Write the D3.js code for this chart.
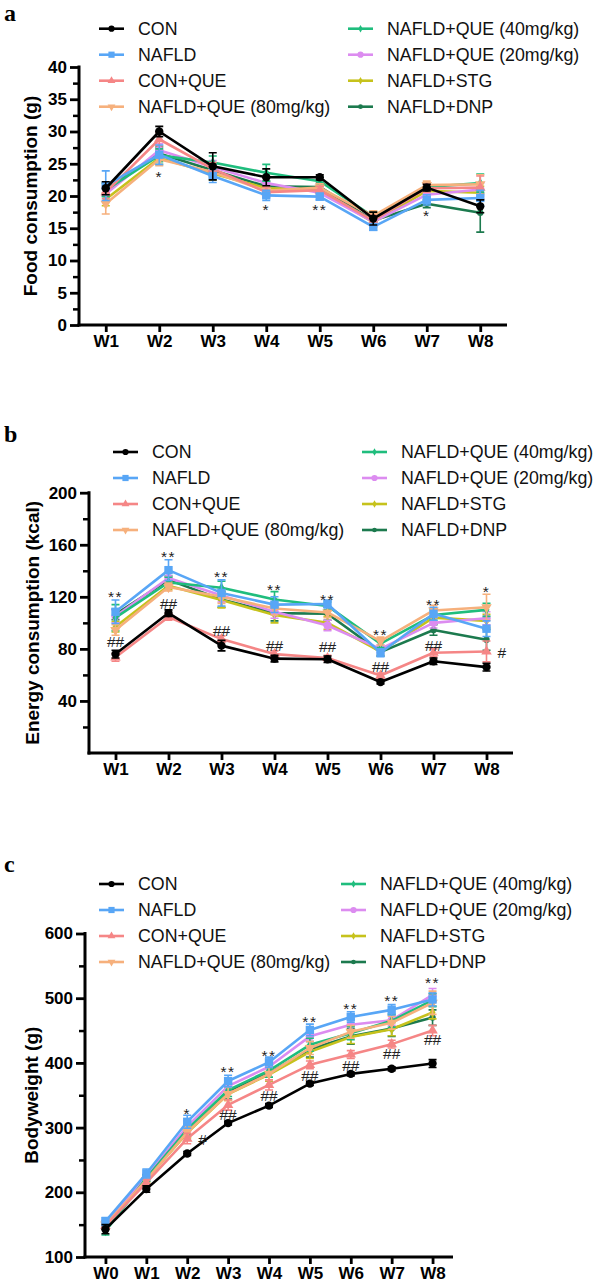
<!DOCTYPE html>
<html><head><meta charset="utf-8">
<script src="https://cdn.jsdelivr.net/npm/d3@7"></script>
<style>body{margin:0;background:#fff}svg{display:block}</style>
</head><body>
<svg id="chart" width="596" height="1285"></svg>
<script>
// ---------- data ----------
const groups = ["CON","NAFLD","CON+QUE","NAFLD+QUE (80mg/kg)","NAFLD+QUE (40mg/kg)","NAFLD+QUE (20mg/kg)","NAFLD+STG","NAFLD+DNP"];
const groupColors = ["#000000","#58a6f6","#f58686","#f6b07c","#1fbd7d","#dc8cf0","#c6c21c","#1c7a4e"];
const groupMarkers = ["circle","square","triangle","triangleDown","diamond","circle","diamond","circleSmall"];

const weeksAB = ["W1","W2","W3","W4","W5","W6","W7","W8"];
const weeksC = ["W0","W1","W2","W3","W4","W5","W6","W7","W8"];

// Food consumption (g), rows follow `groups`
const foodMean = [
  [21.2, 30.0, 24.6, 22.9, 22.9, 16.5, 21.3, 18.4],
  [21.6, 26.4, 23.1, 20.1, 19.9, 15.2, 19.4, 19.7],
  [20.6, 28.8, 24.2, 20.6, 20.9, 16.2, 21.2, 21.3],
  [18.8, 25.7, 23.7, 20.8, 21.3, 16.9, 21.7, 21.8],
  [20.9, 26.3, 25.2, 23.6, 22.3, 16.8, 21.4, 22.0],
  [20.3, 27.1, 24.5, 22.0, 20.5, 16.0, 20.2, 21.0],
  [19.5, 25.9, 23.5, 21.2, 21.0, 15.9, 20.8, 20.5],
  [21.0, 26.6, 24.0, 21.5, 21.4, 16.2, 18.8, 17.4]
];
const foodErr = [
  [1.0, 0.8, 2.1, 1.3, 0.4, 1.0, 0.5, 1.0],
  [2.3, 1.5, 1.0, 0.8, 0.5, 0.5, 0.8, 1.2],
  [1.0, 1.0, 1.0, 0.8, 0.6, 0.8, 0.6, 1.8],
  [1.6, 1.0, 1.0, 0.8, 0.6, 0.8, 0.6, 1.5],
  [1.0, 1.0, 1.0, 1.3, 0.6, 0.8, 0.6, 1.4],
  [1.0, 1.0, 1.0, 0.8, 0.6, 0.8, 0.6, 1.0],
  [1.0, 1.0, 1.0, 0.8, 0.6, 0.8, 0.6, 1.0],
  [1.0, 1.0, 1.0, 0.8, 0.6, 0.8, 0.6, 3.0]
];
const foodTicks = [0, 5, 10, 15, 20, 25, 30, 35, 40];
const foodNotes = [
  {week:"W2", value:23.5, text:"*"},
  {week:"W4", value:18.4, text:"*"},
  {week:"W5", value:18.3, text:"**"},
  {week:"W7", value:17.5, text:"*"}
];

// Energy consumption (kcal)
const energyMean = [
  [76, 107.5, 82.5, 72.5, 72, 54.5, 70.5, 66],
  [108.5, 140.5, 123, 114, 114.5, 77, 107, 95.5],
  [73.5, 104.5, 87.5, 76, 73, 59.5, 77, 78],
  [94.5, 127.5, 120, 111, 108, 86, 109.5, 112],
  [104, 131, 127, 118, 113, 84, 106, 110],
  [105, 134.5, 121, 108.5, 98, 80, 100, 103.5],
  [97, 128.5, 117.5, 106, 100, 78, 104, 101.5],
  [106.5, 133, 118, 107.5, 107, 77.5, 94.5, 87]
];
const energyErr = [
  [3, 2.5, 4, 2.5, 2.5, 1.5, 2.5, 3],
  [9, 8, 10, 6, 3, 3, 5, 6],
  [3, 2.5, 2.5, 2.5, 2, 2, 3, 8],
  [4, 3, 5, 5, 4, 3, 4, 10],
  [10, 4, 5, 6, 3, 3, 4, 5],
  [5, 4, 5, 5, 4, 3, 4, 5],
  [4, 3, 6, 6, 5, 3, 4, 5],
  [4, 3, 6, 6, 5, 3, 4, 8]
];
const energyTicks = [40, 80, 120, 160, 200];
const energyNotes = [
  {week:"W1", value:122.6, text:"**"}, {week:"W1", value:85.6, text:"##"},
  {week:"W2", value:153.4, text:"**"}, {week:"W2", value:115.2, text:"##"},
  {week:"W3", value:138, text:"**"},   {week:"W3", value:94.5, text:"##"},
  {week:"W4", value:127.6, text:"**"}, {week:"W4", value:82.3, text:"##"},
  {week:"W5", value:120.5, text:"**"}, {week:"W5", value:81.8, text:"##"},
  {week:"W6", value:93.2, text:"**"},  {week:"W6", value:66.5, text:"##"},
  {week:"W7", value:116.2, text:"**"}, {week:"W7", value:83, text:"##"},
  {week:"W8", value:126.4, text:"*"},  {week:"W8", value:77, text:"#", side:true}
];

// Bodyweight (g)
const weightMean = [
  [143, 205, 260, 307, 334, 368, 383, 391, 399],
  [155, 229, 309, 372, 401, 451, 471, 482, 498],
  [148, 215, 283, 335, 366, 397, 413, 429, 450],
  [150, 219, 293, 352, 383, 423, 448, 462, 493],
  [140, 222, 297, 358, 388, 428, 446, 465, 497],
  [152, 224, 302, 364, 394, 441, 459, 466, 505],
  [148, 220, 292, 352, 382, 417, 440, 452, 478],
  [151, 222, 296, 356, 384, 421, 441, 453, 470]
];
const weightErr = [
  [7, 5, 3, 3, 3, 3, 3, 3, 6],
  [6, 7, 10, 9, 8, 9, 8, 8, 10],
  [5, 5, 8, 8, 8, 6, 6, 6, 8],
  [5, 5, 8, 10, 10, 10, 10, 10, 18],
  [6, 5, 8, 10, 10, 10, 10, 10, 10],
  [5, 5, 8, 8, 8, 8, 8, 8, 10],
  [5, 5, 8, 10, 10, 10, 10, 10, 10],
  [5, 5, 8, 12, 12, 12, 12, 12, 12]
];
const weightTicks = [100, 200, 300, 400, 500, 600];
const weightNotes = [
  {week:"W2", value:327, text:"*"},   {week:"W2", value:281, text:"#", side:true},
  {week:"W3", value:392, text:"**"},  {week:"W3", value:320.6, text:"##"},
  {week:"W4", value:415.8, text:"**"},{week:"W4", value:350.4, text:"##"},
  {week:"W5", value:467.9, text:"**"},{week:"W5", value:381.3, text:"##"},
  {week:"W6", value:488.4, text:"**"},{week:"W6", value:396.8, text:"##"},
  {week:"W7", value:501.4, text:"**"},{week:"W7", value:414.8, text:"##"},
  {week:"W8", value:529.2, text:"**"},{week:"W8", value:436.9, text:"##"}
];

// ---------- drawing ----------
const svg = d3.select("#chart");
const SANS = "'Liberation Sans', Arial, sans-serif";

function markerPath(kind, scale) {
  const s = scale || 1;
  const map = {
    circle: [d3.symbolCircle, 55],
    circleSmall: [d3.symbolCircle, 32],
    square: [d3.symbolSquare, 70],
    triangle: [d3.symbolTriangle, 48],
    triangleDown: [d3.symbolTriangle, 48],
    diamond: [d3.symbolDiamond, 30]
  };
  const m = map[kind];
  return d3.symbol().type(m[0]).size(m[1] * s)();
}

function drawPanel(cfg) {
  const g = svg.append("g");
  const x = d3.scalePoint().domain(cfg.weeks).range([cfg.left, cfg.right]).padding(0.5);
  const y = d3.scaleLinear().domain(cfg.domain).range([cfg.bottom, cfg.top]);

  // panel letter
  g.append("text").attr("x", 4).attr("y", cfg.letterY)
    .attr("font-family", "'Liberation Serif', 'Times New Roman', serif")
    .attr("font-weight", "bold").attr("font-size", 24).text(cfg.letter);

  // legend
  groups.forEach((name, i) => {
    const col = i < 4 ? 0 : 1;
    const row = i % 4;
    const lx = cfg.legendX[col];
    const ly = cfg.legendY + row * 26;
    const lg = g.append("g");
    lg.append("line").attr("x1", lx).attr("x2", lx + 25).attr("y1", ly).attr("y2", ly)
      .attr("stroke", groupColors[i]).attr("stroke-width", 2.6);
    lg.append("path").attr("d", markerPath(groupMarkers[i], 0.55))
      .attr("transform", `translate(${lx + 12.5},${ly})` + (groupMarkers[i] === "triangleDown" ? " rotate(180)" : ""))
      .attr("fill", groupColors[i]);
    lg.append("text").attr("x", lx + 39).attr("y", ly + 6.3)
      .attr("font-family", SANS).attr("font-size", 17.8).attr("fill", "#111").text(name);
  });

  // y-axis
  const yAxis = d3.axisLeft(y).tickValues(cfg.ticks).tickSize(9).tickPadding(3).tickSizeOuter(0);
  const ya = g.append("g").attr("transform", `translate(${cfg.left},0)`).call(yAxis);
  ya.select(".domain").attr("stroke-width", 3).attr("d", `M0,${y(cfg.domain[0]) + 1.5}V${y(cfg.domain[1]) - 1.5}`);
  ya.selectAll(".tick line").attr("stroke-width", 2.8);
  ya.selectAll(".tick text").attr("font-family", SANS).attr("font-weight", "bold")
    .attr("font-size", 17).attr("fill", "#000");
  const yMinor = d3.axisLeft(y).tickValues(cfg.minor).tickSize(6).tickFormat("").tickSizeOuter(0);
  const ym = g.append("g").attr("transform", `translate(${cfg.left},0)`).call(yMinor);
  ym.select(".domain").remove();
  ym.selectAll(".tick line").attr("stroke-width", 2.5);

  // x-axis
  const xAxis = d3.axisBottom(x).tickSize(7).tickPadding(3).tickSizeOuter(0);
  const xa = g.append("g").attr("transform", `translate(0,${cfg.bottom})`).call(xAxis);
  xa.select(".domain").attr("stroke-width", 3).attr("d", `M${cfg.left - 1.5},0H${cfg.right}`);
  xa.selectAll(".tick line").attr("stroke-width", 2.8);
  xa.selectAll(".tick text").attr("font-family", SANS).attr("font-weight", "bold")
    .attr("font-size", 17).attr("fill", "#000");

  // y label
  g.append("text")
    .attr("transform", `translate(${cfg.labelX},${(cfg.top + cfg.bottom) / 2}) rotate(-90)`)
    .attr("text-anchor", "middle").attr("font-family", SANS).attr("font-weight", "bold")
    .attr("font-size", 19).text(cfg.ylabel);

  // series, drawn so that CON ends on top
  const line = d3.line().x((d, j) => x(cfg.weeks[j])).y(d => y(d));
  for (let i = groups.length - 1; i >= 0; i--) {
    const sg = g.append("g");
    const c = groupColors[i];
    const vals = cfg.mean[i], errs = cfg.err[i];
    sg.append("path").attr("d", line(vals)).attr("fill", "none")
      .attr("stroke", c).attr("stroke-width", 2.6).attr("stroke-linejoin", "round");
    vals.forEach((v, j) => {
      const cx = x(cfg.weeks[j]);
      const y1 = y(v + errs[j]), y2 = y(v - errs[j]);
      sg.append("path").attr("d", `M${cx},${y1}V${y2}M${cx - 4},${y1}H${cx + 4}M${cx - 4},${y2}H${cx + 4}`)
        .attr("stroke", c).attr("stroke-width", 1.6).attr("fill", "none");
      sg.append("path").attr("d", markerPath(groupMarkers[i], 1))
        .attr("transform", `translate(${cx},${y(v)})` + (groupMarkers[i] === "triangleDown" ? " rotate(180)" : ""))
        .attr("fill", c);
    });
  }

  // significance marks
  cfg.notes.forEach(n => {
    const isStar = n.text.indexOf("*") >= 0;
    const fs = 15.5;
    const cx = x(n.week) + (n.side ? 11 : 0);
    const cy = y(n.value);
    g.append("text").attr("x", cx).attr("y", cy + (isStar ? 0.55 * fs : 0.36 * fs))
      .attr("text-anchor", n.side ? "start" : "middle")
      .attr("font-family", SANS).attr("font-size", fs).attr("fill", "#222")
      .attr("letter-spacing", isStar ? 1.5 : 0)
      .text(n.text);
  });
}

drawPanel({
  letter: "a", letterY: 21, weeks: weeksAB, domain: [0, 40],
  left: 79, right: 507, top: 67, bottom: 325,
  ticks: foodTicks, minor: d3.range(2.5, 40, 5),
  mean: foodMean, err: foodErr, notes: foodNotes,
  ylabel: "Food consumption (g)", labelX: 37,
  legendX: [99, 348], legendY: 28.7
});

drawPanel({
  letter: "b", letterY: 442, weeks: weeksAB, domain: [0, 200],
  left: 89, right: 513, top: 492.7, bottom: 753,
  ticks: energyTicks, minor: d3.range(20, 200, 40),
  mean: energyMean, err: energyErr, notes: energyNotes,
  ylabel: "Energy consumption (kcal)", labelX: 39,
  legendX: [113, 362], legendY: 452
});

drawPanel({
  letter: "c", letterY: 872, weeks: weeksC, domain: [100, 600],
  left: 85, right: 453, top: 933.5, bottom: 1257,
  ticks: weightTicks, minor: d3.range(150, 600, 100),
  mean: weightMean, err: weightErr, notes: weightNotes,
  ylabel: "Bodyweight (g)", labelX: 38,
  legendX: [99, 341], legendY: 884
});
</script>
</body></html>
